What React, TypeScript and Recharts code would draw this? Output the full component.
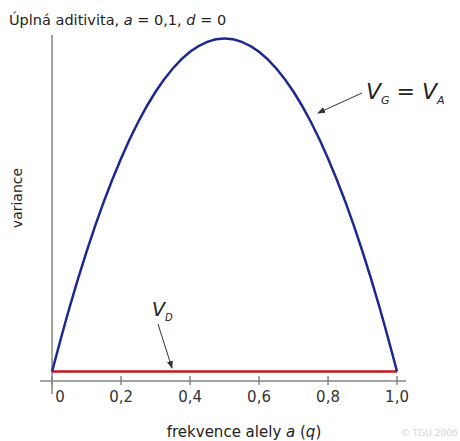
import { LineChart, Line, XAxis, YAxis, ReferenceLine, Customized } from 'recharts';

const FREQ_Q = [0, 0.05, 0.1, 0.15, 0.2, 0.25, 0.3, 0.35, 0.4, 0.45, 0.5, 0.55, 0.6, 0.65, 0.7, 0.75, 0.8, 0.85, 0.9, 0.95, 1];
const VAR_G = [0, 0.19, 0.36, 0.51, 0.64, 0.75, 0.84, 0.91, 0.96, 0.99, 1.0, 0.99, 0.96, 0.91, 0.84, 0.75, 0.64, 0.51, 0.36, 0.19, 0];
const VAR_D = [0, 0, 0, 0, 0, 0, 0, 0, 0, 0, 0, 0, 0, 0, 0, 0, 0, 0, 0, 0, 0];
const X_TICKS = [0, 0.2, 0.4, 0.6, 0.8, 1.0];

const data = FREQ_Q.map((q, i) => ({ q, vg: VAR_G[i], vd: VAR_D[i] }));

const FONT = '"DejaVu Sans", Verdana, sans-serif';
const AXIS = '#858585';

const fmt = (v: number) => (v === 0 ? '0' : v.toFixed(1).replace('.', ','));

function Tick(props: any) {
  const { x, y, payload } = props;
  const dx = payload.value === 0 ? 8 : 0;
  return (
    <g>
      <line x1={x} x2={x} y1={y - 5} y2={y + 4} stroke={AXIS} strokeWidth={1.5} />
      <text x={x + dx} y={y + 21} textAnchor="middle" fontFamily={FONT} fontSize={15} fill="#333">
        {fmt(payload.value)}
      </text>
    </g>
  );
}

function Notes() {
  return (
    <g fontFamily={FONT}>
      <defs>
        <marker id="ah" markerWidth="8" markerHeight="8" refX="7" refY="4" orient="auto" markerUnits="userSpaceOnUse">
          <path d="M0,1 L8,4 L0,7 Z" fill="#333" />
        </marker>
      </defs>
      <text x={9} y={25} fontSize={14.5} fill="#222">
        Úplná aditivita, <tspan fontStyle="italic">a</tspan> = 0,1, <tspan fontStyle="italic">d</tspan> = 0
      </text>
      <text x={17} y={198} fontSize={14} fill="#222" textAnchor="middle" transform="rotate(-90 17 198)" dominantBaseline="central">
        variance
      </text>
      <text x={244} y={437} fontSize={15} fill="#222" textAnchor="middle">
        frekvence alely <tspan fontStyle="italic">a</tspan> (<tspan fontStyle="italic">q</tspan>)
      </text>
      <text x={401} y={436} fontSize={9} fill="#d4d4d4">© TGU 2006</text>
      <text x={366} y={99} fontSize={22} fontStyle="italic" fill="#222">
        V<tspan fontSize={11} dy={5}>G</tspan><tspan dy={-5} fontStyle="normal"> = </tspan>V<tspan fontSize={11} dy={5}>A</tspan>
      </text>
      <line x1={362} y1={93} x2={318} y2={113} stroke="#333" strokeWidth={1} markerEnd="url(#ah)" />
      <text x={152} y={316} fontSize={19} fontStyle="italic" fill="#222">
        V<tspan fontSize={10} dy={5}>D</tspan>
      </text>
      <line x1={158} y1={324} x2={172} y2={368} stroke="#333" strokeWidth={1} markerEnd="url(#ah)" />
    </g>
  );
}

export default function App() {
  return (
    <div style={{ position: 'absolute', left: 0, top: 0, background: '#fff' }}>
      <LineChart width={460} height={441} data={data} margin={{ top: 35, right: 54, bottom: 0, left: 40 }}>
        <XAxis
          type="number"
          dataKey="q"
          domain={[-0.035, 1.026]}
          ticks={X_TICKS}
          allowDataOverflow
          stroke={AXIS}
          strokeWidth={1.5}
          tickLine={false}
          tickSize={0}
          tickMargin={0}
          tick={<Tick />}
          height={60}
        />
        <YAxis hide domain={[-0.0285, 1.0105]} allowDataOverflow />
        <ReferenceLine
          segment={[{ x: 0, y: 1.0105 }, { x: 0, y: -0.0676 }]}
          stroke={AXIS}
          strokeWidth={1.5}
          ifOverflow="visible"
        />
        <Line type="monotone" dataKey="vd" stroke="#c8141e" strokeWidth={2.5} dot={false} isAnimationActive={false} />
        <Line type="monotone" dataKey="vg" stroke="#1c2790" strokeWidth={2.5} dot={false} isAnimationActive={false} />
        <Customized component={Notes} />
      </LineChart>
    </div>
  );
}
